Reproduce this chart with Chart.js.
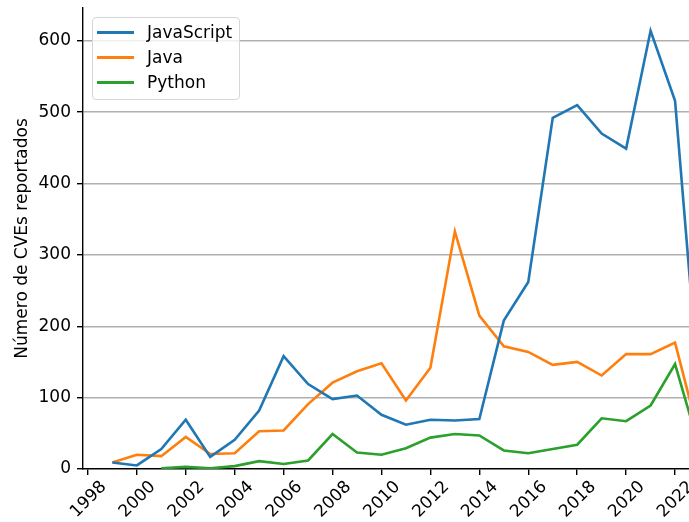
<!DOCTYPE html>
<html>
<head>
<meta charset="utf-8">
<script src="https://cdn.jsdelivr.net/npm/chart.js@4.4.1/dist/chart.umd.min.js"></script>
<style>
  body { margin: 0; background: #fff; }
  #wrap { position: relative; width: 689px; height: 522px; }
  #legend {
    position: absolute; left: 92px; top: 17px; width: 146px; height: 81px;
    border: 1px solid #d6d6d6; border-radius: 4px; background: rgba(255,255,255,0.8);
    font-family: "DejaVu Sans"; font-size: 17px; color: #000;
  }
  .item { position: absolute; left: 0; height: 20px; line-height: 20px; }
  .item span.sw { position: absolute; left: 4px; top: 9px; width: 37px; height: 2.6px; }
  .item span.lbl { position: absolute; left: 54px; top: 0; white-space: nowrap; }
</style>
</head>
<body>
<div id="wrap">
  <canvas id="chart"></canvas>
  <div id="legend"></div>
</div>
<script>
var years = [1999, 2000, 2001, 2002, 2003, 2004, 2005, 2006, 2007, 2008, 2009, 2010,
             2011, 2012, 2013, 2014, 2015, 2016, 2017, 2018, 2019, 2020, 2021, 2022, 2023];

var javascript = [9, 5, 28, 69, 17, 41, 82, 158, 119, 98, 103, 76,
                  62, 69, 68, 70, 208, 262, 492, 510, 470, 449, 614, 516, 102];
var java = [9, 20, 18, 45, 21, 22, 53, 54, 91, 121, 137, 148,
            96, 142, 333, 215, 172, 164, 146, 150, 131, 161, 161, 177, 44];
var python = [null, null, 1, 3, 1, 4, 11, 7, 12, 49, 23, 20,
              29, 44, 49, 47, 26, 22, 28, 34, 71, 67, 89, 147, 29];

var xTicks = [1998, 2000, 2002, 2004, 2006, 2008, 2010, 2012, 2014, 2016, 2018, 2020, 2022];
var yTicks = [0, 100, 200, 300, 400, 500, 600];

var series = [
    ["JavaScript", javascript, "#1f77b4"],
    ["Java", java, "#ff7f0e"],
    ["Python", python, "#2ca02c"]
];

function points(values) {
    var pts = [];
    years.forEach((year, i) => {
        if (values[i] !== null) pts.push({x: year, y: values[i]});
    });
    return pts;
}

Chart.defaults.font.family = "DejaVu Sans";
Chart.defaults.font.size = 17;
Chart.defaults.color = "#000";

var data = { datasets: [] };
series.forEach(s => {
    data.datasets.push({
        label: s[0],
        data: points(s[1]),
        borderColor: s[2],
        backgroundColor: s[2],
        borderWidth: 2.6,
        pointRadius: 0,
        tension: 0,
        fill: false
    });
});

new Chart("chart", {
    type: "line",
    data: data,
    options: {
        responsive: true,
        maintainAspectRatio: false,
        animation: false,
        layout: { padding: { top: 8, right: 0, left: 0, bottom: 0 } },
        plugins: { legend: { display: false }, tooltip: { enabled: false } },
        scales: {
            x: {
                type: "linear",
                min: 1997.8,
                max: 2022.57,
                afterBuildTicks: scale => { scale.ticks = xTicks.map(v => ({value: v})); },
                afterFit: scale => {
                    scale.height = 53;
                    scale.paddingLeft = 0; scale.paddingRight = 0;
                },
                grid: { drawOnChartArea: false, drawTicks: true, tickLength: 6, tickColor: "#000", lineWidth: 1.4 },
                border: { color: "#000", width: 1.4 },
                ticks: { minRotation: 45, maxRotation: 45, padding: 2, labelOffset: 16,
                         callback: v => String(v) }
            },
            y: {
                min: 0,
                max: 646,
                afterBuildTicks: scale => { scale.ticks = yTicks.map(v => ({value: v})); },
                afterFit: scale => {
                    scale.width = 83;
                    scale.paddingTop = 0; scale.paddingBottom = 0;
                },
                grid: {
                    color: ctx => (ctx.tick && ctx.tick.value === 0) ? "rgba(0,0,0,0)" : "#b0b0b0",
                    lineWidth: 1.4, tickLength: 6, tickColor: "#000"
                },
                border: { color: "#000", width: 1.4 },
                ticks: { padding: 6 },
                title: { display: true, text: "Número de CVEs reportados", padding: { top: 12, bottom: 0 } }
            }
        }
    }
});

var legend = document.getElementById("legend");
series.forEach((s, i) => {
    var item = document.createElement("div");
    item.className = "item";
    item.style.top = (4 + i * 25) + "px";
    item.innerHTML = '<span class="sw" style="background:' + s[2] + '"></span><span class="lbl">' + s[0] + '</span>';
    legend.appendChild(item);
});
</script>
</body>
</html>
